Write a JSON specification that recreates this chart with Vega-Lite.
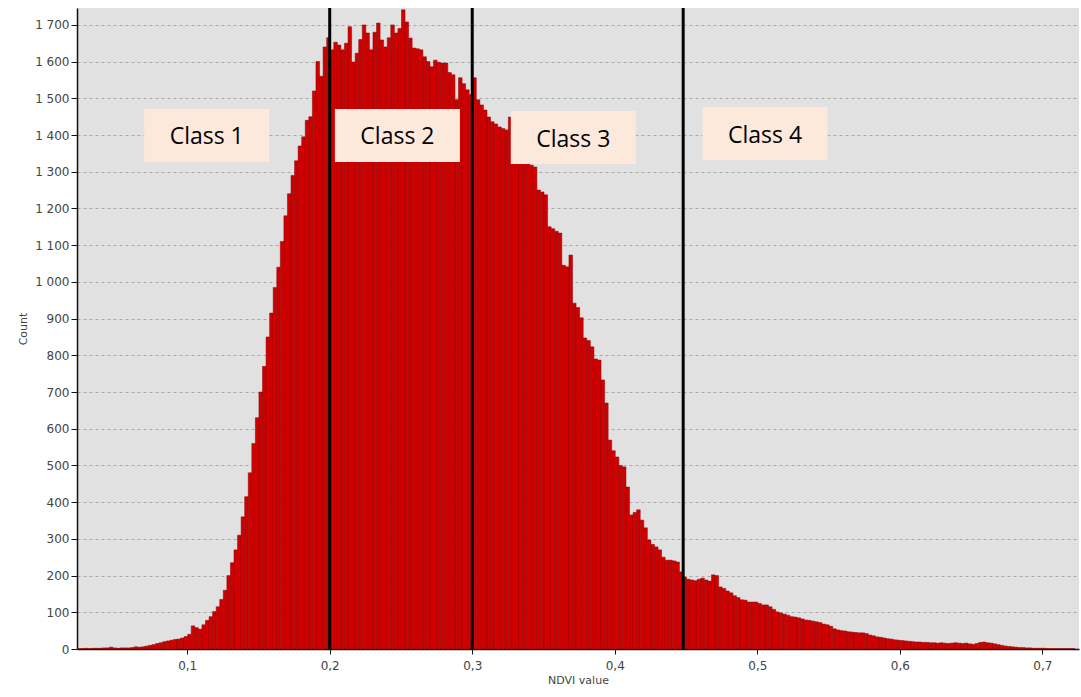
{
  "$schema": "https://vega.github.io/schema/vega-lite/v6.json",
  "autosize": {"type": "none"},
  "width": 1002,
  "height": 641,
  "padding": {"left": 77, "top": 8, "right": 2, "bottom": 48},
  "background": "white",
  "config": {
    "view": {"fill": "#e1e1e1", "stroke": null},
    "axis": {"labelFont": "DejaVu Sans", "titleFont": "DejaVu Sans", "labelColor": "#444", "titleColor": "#444", "titleFontWeight": "normal", "domainColor": "#111", "tickColor": "#111"}
  },
  "datasets": {
    "hist": [
      {"v":0.0225,"c":1},{"v":0.025,"c":1},{"v":0.0275,"c":2},{"v":0.03,"c":1},{"v":0.0325,"c":2},{"v":0.035,"c":2},{"v":0.0375,"c":2},{"v":0.04,"c":3},{"v":0.0425,"c":3},{"v":0.045,"c":5},
      {"v":0.0475,"c":3},{"v":0.05,"c":2},{"v":0.0525,"c":3},{"v":0.055,"c":3},{"v":0.0575,"c":3},{"v":0.06,"c":4},{"v":0.0625,"c":6},{"v":0.065,"c":5},{"v":0.0675,"c":6},{"v":0.07,"c":8},
      {"v":0.0725,"c":10},{"v":0.075,"c":12},{"v":0.0775,"c":15},{"v":0.08,"c":17},{"v":0.0825,"c":20},{"v":0.085,"c":22},{"v":0.0875,"c":24},{"v":0.09,"c":26},{"v":0.0925,"c":27},{"v":0.095,"c":30},
      {"v":0.0975,"c":34},{"v":0.1,"c":40},{"v":0.1025,"c":63},{"v":0.105,"c":58},{"v":0.1075,"c":54},{"v":0.11,"c":66},{"v":0.1125,"c":78},{"v":0.115,"c":88},{"v":0.1175,"c":102},{"v":0.12,"c":115},
      {"v":0.1225,"c":135},{"v":0.125,"c":160},{"v":0.1275,"c":200},{"v":0.13,"c":235},{"v":0.1325,"c":270},{"v":0.135,"c":310},{"v":0.1375,"c":360},{"v":0.14,"c":415},{"v":0.1425,"c":480},{"v":0.145,"c":560},
      {"v":0.1475,"c":630},{"v":0.15,"c":700},{"v":0.1525,"c":770},{"v":0.155,"c":850},{"v":0.1575,"c":915},{"v":0.16,"c":985},{"v":0.1625,"c":1040},{"v":0.165,"c":1110},{"v":0.1675,"c":1180},{"v":0.17,"c":1240},
      {"v":0.1725,"c":1290},{"v":0.175,"c":1330},{"v":0.1775,"c":1370},{"v":0.18,"c":1395},{"v":0.1825,"c":1440},{"v":0.185,"c":1450},{"v":0.1875,"c":1520},{"v":0.19,"c":1600},{"v":0.1925,"c":1560},{"v":0.195,"c":1640},
      {"v":0.1975,"c":1665},{"v":0.2,"c":1632},{"v":0.2025,"c":1653},{"v":0.205,"c":1645},{"v":0.2075,"c":1632},{"v":0.21,"c":1650},{"v":0.2125,"c":1695},{"v":0.215,"c":1599},{"v":0.2175,"c":1623},{"v":0.22,"c":1660},
      {"v":0.2225,"c":1700},{"v":0.225,"c":1678},{"v":0.2275,"c":1632},{"v":0.23,"c":1680},{"v":0.2325,"c":1705},{"v":0.235,"c":1659},{"v":0.2375,"c":1640},{"v":0.24,"c":1665},{"v":0.2425,"c":1700},{"v":0.245,"c":1678},
      {"v":0.2475,"c":1690},{"v":0.25,"c":1741},{"v":0.2525,"c":1708},{"v":0.255,"c":1664},{"v":0.2575,"c":1637},{"v":0.26,"c":1635},{"v":0.2625,"c":1632},{"v":0.265,"c":1613},{"v":0.2675,"c":1600},{"v":0.27,"c":1586},
      {"v":0.2725,"c":1604},{"v":0.275,"c":1598},{"v":0.2775,"c":1596},{"v":0.28,"c":1596},{"v":0.2825,"c":1570},{"v":0.285,"c":1564},{"v":0.2875,"c":1496},{"v":0.29,"c":1556},{"v":0.2925,"c":1540},{"v":0.295,"c":1523},
      {"v":0.2975,"c":1510},{"v":0.3,"c":1556},{"v":0.3025,"c":1496},{"v":0.305,"c":1482},{"v":0.3075,"c":1468},{"v":0.31,"c":1449},{"v":0.3125,"c":1436},{"v":0.315,"c":1430},{"v":0.3175,"c":1422},{"v":0.32,"c":1418},
      {"v":0.3225,"c":1414},{"v":0.325,"c":1449},{"v":0.3275,"c":1400},{"v":0.33,"c":1375},{"v":0.3325,"c":1350},{"v":0.335,"c":1330},{"v":0.3375,"c":1324},{"v":0.34,"c":1318},{"v":0.3425,"c":1313},{"v":0.345,"c":1250},
      {"v":0.3475,"c":1245},{"v":0.35,"c":1237},{"v":0.3525,"c":1150},{"v":0.355,"c":1145},{"v":0.3575,"c":1138},{"v":0.36,"c":1133},{"v":0.3625,"c":1045},{"v":0.365,"c":1041},{"v":0.3675,"c":1073},{"v":0.37,"c":942},
      {"v":0.3725,"c":930},{"v":0.375,"c":902},{"v":0.3775,"c":847},{"v":0.38,"c":840},{"v":0.3825,"c":823},{"v":0.385,"c":790},{"v":0.3875,"c":787},{"v":0.39,"c":733},{"v":0.3925,"c":670},{"v":0.395,"c":569},
      {"v":0.3975,"c":540},{"v":0.4,"c":523},{"v":0.4025,"c":500},{"v":0.405,"c":496},{"v":0.4075,"c":441},{"v":0.41,"c":365},{"v":0.4125,"c":372},{"v":0.415,"c":379},{"v":0.4175,"c":351},{"v":0.42,"c":330},
      {"v":0.4225,"c":297},{"v":0.425,"c":285},{"v":0.4275,"c":278},{"v":0.43,"c":270},{"v":0.4325,"c":250},{"v":0.435,"c":242},{"v":0.4375,"c":242},{"v":0.44,"c":240},{"v":0.4425,"c":237},{"v":0.445,"c":210},
      {"v":0.4475,"c":196},{"v":0.45,"c":190},{"v":0.4525,"c":188},{"v":0.455,"c":186},{"v":0.4575,"c":190},{"v":0.46,"c":193},{"v":0.4625,"c":188},{"v":0.465,"c":185},{"v":0.4675,"c":202},{"v":0.47,"c":200},
      {"v":0.4725,"c":169},{"v":0.475,"c":165},{"v":0.4775,"c":158},{"v":0.48,"c":153},{"v":0.4825,"c":145},{"v":0.485,"c":140},{"v":0.4875,"c":134},{"v":0.49,"c":133},{"v":0.4925,"c":128},{"v":0.495,"c":128},
      {"v":0.4975,"c":128},{"v":0.5,"c":124},{"v":0.5025,"c":120},{"v":0.505,"c":120},{"v":0.5075,"c":115},{"v":0.51,"c":108},{"v":0.5125,"c":101},{"v":0.515,"c":98},{"v":0.5175,"c":95},{"v":0.52,"c":92},
      {"v":0.5225,"c":88},{"v":0.525,"c":87},{"v":0.5275,"c":85},{"v":0.53,"c":82},{"v":0.5325,"c":79},{"v":0.535,"c":78},{"v":0.5375,"c":76},{"v":0.54,"c":74},{"v":0.5425,"c":72},{"v":0.545,"c":68},
      {"v":0.5475,"c":66},{"v":0.55,"c":62},{"v":0.5525,"c":55},{"v":0.555,"c":52},{"v":0.5575,"c":50},{"v":0.56,"c":49},{"v":0.5625,"c":47},{"v":0.565,"c":46},{"v":0.5675,"c":45},{"v":0.57,"c":44},
      {"v":0.5725,"c":44},{"v":0.575,"c":42},{"v":0.5775,"c":38},{"v":0.58,"c":36},{"v":0.5825,"c":33},{"v":0.585,"c":32},{"v":0.5875,"c":30},{"v":0.59,"c":28},{"v":0.5925,"c":27},{"v":0.595,"c":25},
      {"v":0.5975,"c":24},{"v":0.6,"c":23},{"v":0.6025,"c":22},{"v":0.605,"c":21},{"v":0.6075,"c":20},{"v":0.61,"c":19},{"v":0.6125,"c":19},{"v":0.615,"c":18},{"v":0.6175,"c":18},{"v":0.62,"c":17},
      {"v":0.6225,"c":17},{"v":0.625,"c":16},{"v":0.6275,"c":17},{"v":0.63,"c":16},{"v":0.6325,"c":15},{"v":0.635,"c":16},{"v":0.6375,"c":17},{"v":0.64,"c":16},{"v":0.6425,"c":15},{"v":0.645,"c":16},
      {"v":0.6475,"c":14},{"v":0.65,"c":13},{"v":0.6525,"c":15},{"v":0.655,"c":18},{"v":0.6575,"c":19},{"v":0.66,"c":17},{"v":0.6625,"c":16},{"v":0.665,"c":14},{"v":0.6675,"c":12},{"v":0.67,"c":10},
      {"v":0.6725,"c":8},{"v":0.675,"c":7},{"v":0.6775,"c":6},{"v":0.68,"c":5},{"v":0.6825,"c":4},{"v":0.685,"c":4},{"v":0.6875,"c":3},{"v":0.69,"c":3},{"v":0.6925,"c":2},{"v":0.695,"c":2},
      {"v":0.6975,"c":2},{"v":0.7,"c":2},{"v":0.7025,"c":1},{"v":0.705,"c":1},{"v":0.7075,"c":1},{"v":0.71,"c":1},{"v":0.7125,"c":1},{"v":0.715,"c":1},{"v":0.7175,"c":1},{"v":0.72,"c":1}
    ],
    "lines": [{"v": 0.2}, {"v": 0.3}, {"v": 0.448}],
    "labels": [
      {"label": "Class 1", "v": 0.1137, "c": 1399},
      {"label": "Class 2", "v": 0.2475, "c": 1399},
      {"label": "Class 3", "v": 0.3709, "c": 1393},
      {"label": "Class 4", "v": 0.5054, "c": 1404}
    ]
  },
  "layer": [
    {
      "data": {"name": "hist"},
      "mark": {"type": "bar", "fill": "#d10000", "stroke": "#8a0000", "strokeWidth": 0.5, "binSpacing": 0, "clip": true},
      "encoding": {
        "x": {"field": "v", "type": "quantitative", "bin": {"binned": true, "step": 0.0025},
              "scale": {"domain": [0.0227, 0.7257], "nice": false, "zero": false},
              "axis": {"values": [0.1, 0.2, 0.3, 0.4, 0.5, 0.6, 0.7], "labelExpr": "replace(format(datum.value, '.1f'), '.', ',')",
                       "title": "NDVI value", "titleFontSize": 11, "labelFontSize": 12, "tickSize": 5, "labelPadding": 6, "titlePadding": 3, "grid": false, "domainWidth": 1.5}},
        "y": {"field": "c", "type": "quantitative",
              "scale": {"domain": [0, 1746], "nice": false},
              "axis": {"values": [0,100,200,300,400,500,600,700,800,900,1000,1100,1200,1300,1400,1500,1600,1700],
                       "tickCount": 18, "labelOverlap": false,
                       "labelExpr": "replace(format(datum.value, ','), ',', ' ')",
                       "title": "Count", "titleFontSize": 11, "labelFontSize": 12, "tickSize": 6, "labelPadding": 2, "titlePadding": 6,
                       "grid": true, "gridColor": "#9a9a9a", "gridDash": [3, 3], "gridWidth": 0.8, "domainWidth": 1.5}}
      }
    },
    {
      "data": {"name": "lines"},
      "mark": {"type": "rule", "color": "black", "strokeWidth": 3},
      "encoding": {"x": {"field": "v", "type": "quantitative", "title": "NDVI value"}}
    },
    {
      "data": {"name": "labels"},
      "mark": {"type": "rect", "fill": "#fde9dc", "width": 125, "height": 53},
      "encoding": {
        "x": {"field": "v", "type": "quantitative", "title": "NDVI value"},
        "y": {"field": "c", "type": "quantitative", "title": "Count",
              "axis": {"values": [0,100,200,300,400,500,600,700,800,900,1000,1100,1200,1300,1400,1500,1600,1700],
                       "tickCount": 18, "labelOverlap": false,
                       "labelExpr": "replace(format(datum.value, ','), ',', ' ')",
                       "title": "Count", "titleFontSize": 11, "labelFontSize": 12, "tickSize": 6, "labelPadding": 2, "titlePadding": 6,
                       "grid": true, "gridColor": "#9a9a9a", "gridDash": [3, 3], "gridWidth": 0.8, "domainWidth": 1.5}}
      }
    },
    {
      "data": {"name": "labels"},
      "mark": {"type": "text", "font": "Open Sans", "fontSize": 23, "color": "black", "baseline": "middle", "align": "center", "dy": 2},
      "encoding": {
        "x": {"field": "v", "type": "quantitative", "title": "NDVI value"},
        "y": {"field": "c", "type": "quantitative", "title": "Count",
              "axis": {"values": [0,100,200,300,400,500,600,700,800,900,1000,1100,1200,1300,1400,1500,1600,1700],
                       "tickCount": 18, "labelOverlap": false,
                       "labelExpr": "replace(format(datum.value, ','), ',', ' ')",
                       "title": "Count", "titleFontSize": 11, "labelFontSize": 12, "tickSize": 6, "labelPadding": 2, "titlePadding": 6,
                       "grid": true, "gridColor": "#9a9a9a", "gridDash": [3, 3], "gridWidth": 0.8, "domainWidth": 1.5}},
        "text": {"field": "label"}
      }
    }
  ]
}
